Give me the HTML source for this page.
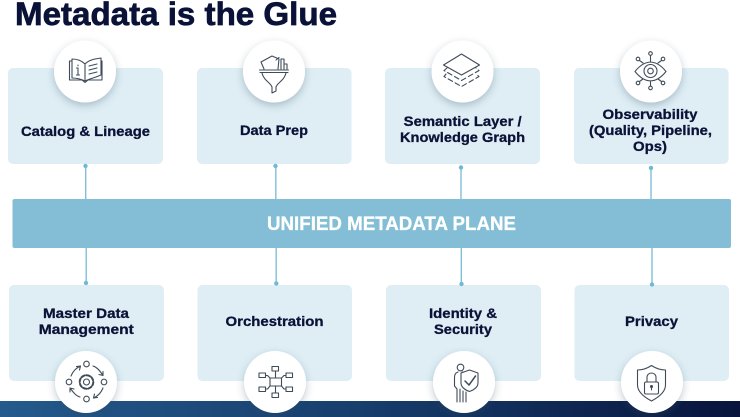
<!DOCTYPE html>
<html><head><meta charset="utf-8"><style>
html,body{margin:0;padding:0;background:#fff;width:740px;height:417px;overflow:hidden}
svg{display:block}
.c{font-family:"Liberation Sans",sans-serif;font-weight:700;font-size:14px;fill:#0b1238;stroke:#0b1238;stroke-width:.3}
.i{fill:none;stroke:#3f4c58;stroke-width:1.1;stroke-linejoin:round;stroke-linecap:round}
</style></head><body>
<svg width="740" height="417" viewBox="0 0 740 417" xmlns="http://www.w3.org/2000/svg">
<defs>
<linearGradient id="f" x1="0" x2="1" y1="0" y2="0"><stop offset="0" stop-color="#245a8c"/><stop offset="0.5" stop-color="#173d6b"/><stop offset="1" stop-color="#08143c"/></linearGradient>
<filter id="s" x="-30%" y="-30%" width="160%" height="170%"><feDropShadow dx="0" dy="3" stdDeviation="4" flood-color="#33475a" flood-opacity="0.3"/></filter>
</defs>
<rect x="0" y="401" width="740" height="16" fill="url(#f)"/>
<text x="15" y="25" font-family="Liberation Sans,sans-serif" font-weight="700" font-size="32" fill="#0b1238" stroke="#0b1238" stroke-width="0.7" textLength="322" lengthAdjust="spacingAndGlyphs">Metadata is the Glue</text>

<g fill="#dfeef5">
<rect x="8" y="68" width="155" height="96" rx="5"/><rect x="197" y="68" width="154.500" height="96" rx="5"/><rect x="385" y="68" width="155" height="96" rx="5"/><rect x="574" y="68" width="154.500" height="96" rx="5"/>
<rect x="9" y="285" width="155" height="96" rx="5"/><rect x="197.500" y="285" width="154.500" height="96" rx="5"/><rect x="386" y="285" width="155" height="96" rx="5"/><rect x="574.500" y="285" width="154.500" height="96" rx="5"/>
</g>

<g stroke="#7fbfd9" stroke-width="1.400">
<path d="M85.700 167V199M275.800 167V199M461 168V199M651 168V199M86.200 248V283M276.200 248V283M461.300 248V284M652 248V284"/>
</g>
<g fill="#6fb9d6">
<circle cx="85.500" cy="166" r="2.200"/><circle cx="275.500" cy="166" r="2.200"/><circle cx="461" cy="167.500" r="2.200"/><circle cx="651" cy="168" r="2.200"/>
<circle cx="86" cy="283" r="2.200"/><circle cx="276.300" cy="283.500" r="2.200"/><circle cx="461.500" cy="284" r="2.200"/><circle cx="652" cy="284.500" r="2.200"/>
</g>
<rect x="12.500" y="199" width="718.500" height="49" rx="2" fill="#84bed6"/>
<text x="391.500" y="230" text-anchor="middle" font-family="Liberation Sans,sans-serif" font-weight="700" font-size="19" fill="#fff" stroke="#fff" stroke-width="0.3" textLength="249" lengthAdjust="spacingAndGlyphs">UNIFIED METADATA PLANE</text>

<g class="c">
<text x="85.500" y="136" text-anchor="middle" textLength="129" lengthAdjust="spacingAndGlyphs">Catalog &amp; Lineage</text>
<text x="274" y="135" text-anchor="middle" textLength="68" lengthAdjust="spacingAndGlyphs">Data Prep</text>
<text x="462.700" y="126" text-anchor="middle" textLength="118" lengthAdjust="spacingAndGlyphs">Semantic Layer /</text>
<text x="462.500" y="142" text-anchor="middle" textLength="125" lengthAdjust="spacingAndGlyphs">Knowledge Graph</text>
<text x="650" y="119" text-anchor="middle" textLength="95" lengthAdjust="spacingAndGlyphs">Observability</text>
<text x="650.500" y="135" text-anchor="middle" textLength="123" lengthAdjust="spacingAndGlyphs">(Quality, Pipeline,</text>
<text x="650" y="151" text-anchor="middle" textLength="34" lengthAdjust="spacingAndGlyphs">Ops)</text>
<text x="86" y="318" text-anchor="middle" textLength="86" lengthAdjust="spacingAndGlyphs">Master Data</text>
<text x="86.300" y="334" text-anchor="middle" textLength="95" lengthAdjust="spacingAndGlyphs">Management</text>
<text x="274.500" y="326" text-anchor="middle" textLength="98" lengthAdjust="spacingAndGlyphs">Orchestration</text>
<text x="463" y="318" text-anchor="middle" textLength="68" lengthAdjust="spacingAndGlyphs">Identity &amp;</text>
<text x="463" y="334" text-anchor="middle" textLength="58" lengthAdjust="spacingAndGlyphs">Security</text>
<text x="651.500" y="326" text-anchor="middle" textLength="53" lengthAdjust="spacingAndGlyphs">Privacy</text>
</g>

<g fill="#fff" filter="url(#s)">
<circle cx="85" cy="71.500" r="31"/><circle cx="274" cy="71.500" r="31"/><circle cx="462.500" cy="71.500" r="31"/><circle cx="651" cy="71.500" r="31"/>
<circle cx="86" cy="382" r="31"/><circle cx="275" cy="382" r="31"/><circle cx="464" cy="382" r="31"/><circle cx="652" cy="382" r="31"/>
</g>

<g class="i">
<!-- book -->
<path d="M85 64C81 60 76 59 72 59V78C76 78 81 79 85 81C89 79 94 78 101 75V58C94 59 89 60 85 64V81"/>
<path d="M72 61H69.500V80H82L85 82.500L88 80H102V61H101"/>
<path d="M78 68V75M76.500 75H79.500M76.500 68H78M78 65V65.800M89 66L97 64M89 70L97 68M89 74L97 72"/>
<!-- funnel -->
<path d="M259.500 70H288.500M260 72.500H288M262 73C264 81 270 82 272 87V93L276 91V87C278 82 284 81 286 73"/>
<path d="M264 69L261 62L272 56L279 59L278 69M279 57.500L276 60"/>
<path d="M281 69V59H284V69M284 69V64H287V69"/>
<!-- layers -->
<path d="M461.500 54L479.500 65L461.500 75L443.500 65Z"/>
<path stroke-dasharray="5 3" d="M447 68L444 70.500L461.500 80.500L479 70.500L476 68M446 74L444 76.500L461.500 86.500L479 76.500L476 74"/>
<!-- eye -->
<path d="M635 71.500C645 59 656 59 666 71.500C656 84 645 84 635 71.500Z"/>
<circle cx="650.500" cy="71" r="6.500"/><circle cx="650.500" cy="71" r="2.800"/>
<circle cx="650.500" cy="53.500" r="1.800"/><circle cx="638" cy="59" r="1.800"/><circle cx="663" cy="59" r="1.800"/>
<circle cx="650.500" cy="88" r="1.800"/><circle cx="638" cy="83" r="1.800"/><circle cx="663" cy="83" r="1.800"/>
<path d="M650.500 55.500V61.500M639.500 60.500L643 63M661.500 60.500L658 63M650.500 81.500V86M639.500 81.500L643 79M661.500 81.500L658 79"/>
<!-- gear cycle -->
<circle cx="86.500" cy="364" r="2.800"/><circle cx="86.500" cy="399" r="2.800"/><circle cx="69" cy="382" r="2.800"/><circle cx="104" cy="382" r="2.800"/>
<circle cx="86.500" cy="382" r="3"/>
<circle cx="86.500" cy="382" r="6.800" stroke-dasharray="3.500 1.800" stroke-width="2"/>
<path d="M71 376C73 371 76 368 80.500 366M80.500 366L76.500 366.500M80.500 366L79.500 370M93 366C97 367 100 371 103 375.500M103 375.500V371.500M103 375.500L99 374.500M103 388C101 393 98 396 93.500 398M93.500 398L97.500 397.500M93.500 398L94.500 394M80 397C76 396 73 392 70 388M70 388V392M70 388L74 389"/>
<!-- network -->
<rect x="270" y="378" width="11.500" height="8"/>
<rect x="272" y="366.500" width="6.500" height="4.500"/><rect x="272" y="393" width="6.500" height="4.500"/>
<rect x="259" y="373" width="6.500" height="4.500"/><rect x="286" y="373" width="6.500" height="4.500"/>
<rect x="259" y="387" width="6.500" height="4.500"/><rect x="286" y="387" width="6.500" height="4.500"/>
<path d="M275.500 371V378M275.500 386V393M265.500 375.500H267.500L270 378M286 375.500H284L281.500 378M265.500 389H267.500L270 386M286 389H284L281.500 386"/>
<!-- person shield -->
<circle cx="460.500" cy="367.500" r="3.300"/>
<path d="M458 372C455 373 454.500 375 454.500 378V386L457 389V402M460 389V402M463 391V402M466 392V402M462 372H464"/>
<path d="M469.500 370L478 373V383C478 387 474 390 469.500 391.500C465 390 461 387 461 383V373Z"/>
<path d="M465 381L469 385L475.500 376" stroke-width="1.500"/>
<!-- shield lock -->
<path d="M651.500 365.500C647 368.500 642 370 637.500 370V385C637.500 392 644 397 651.500 401C659 397 665.500 392 665.500 385V370C661 370 656 368.500 651.500 365.500Z"/>
<rect x="644.500" y="382" width="14" height="12" rx="1.500"/>
<path d="M647 382V377.500C647 371.500 656 371.500 656 377.500V382"/>
<circle cx="651.500" cy="386.500" r="1" fill="#3f4c58"/><path d="M651.500 387V390"/>
</g>
</svg>
</body></html>
